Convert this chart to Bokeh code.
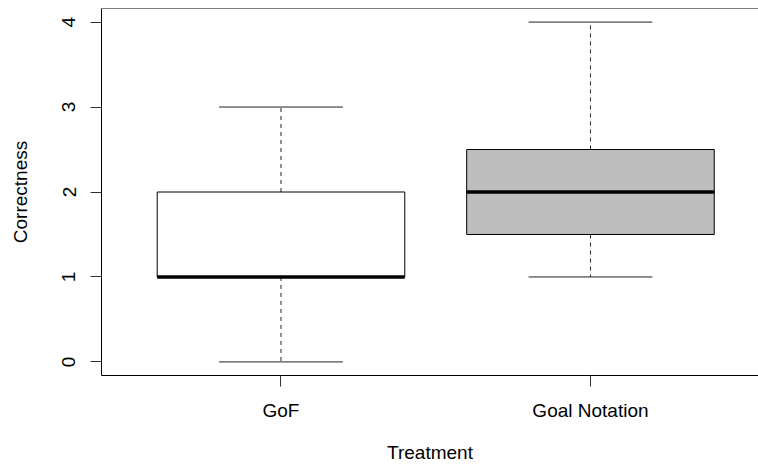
import numpy as np
from bokeh.plotting import figure
from bokeh.models import Range1d, FixedTicker, Span, ColumnDataSource
from bokeh.embed import file_html
from bokeh.resources import INLINE

# ---- data ----
categories = ["GoF", "Goal Notation"]
lower_whisker = [0, 1]
q1 = [1, 1.5]
median = [1, 2]
q3 = [2, 2.5]
upper_whisker = [3, 4]
box_fill = ["#FFFFFF", "#BEBEBE"]
y_ticks = [0, 1, 2, 3, 4]

pos = np.arange(1, len(categories) + 1, dtype=float)
box_w = 0.8
cap_w = 0.4

src = ColumnDataSource(dict(
    x=pos,
    lw=lower_whisker, q1=q1, med=median, q3=q3, uw=upper_whisker,
    fill=box_fill,
    bx0=pos - box_w / 2, bx1=pos + box_w / 2,
    cx0=pos - cap_w / 2, cx1=pos + cap_w / 2,
))

FONT = "Liberation Sans"
FS = "19px"

p = figure(width=758, height=465, output_backend="svg", toolbar_location=None,
           x_range=Range1d(0.42, 2.543), y_range=Range1d(-0.16, 4.16),
           min_border_left=101, min_border_right=0, min_border_top=8, min_border_bottom=90)
p.outline_line_color = None
p.xgrid.visible = False
p.ygrid.visible = False
p.background_fill_color = "white"
p.border_fill_color = "white"

# whiskers (dashed)
p.segment(x0="x", y0="q3", x1="x", y1="uw", source=src, line_color="#222222",
          line_width=1, line_dash="4 4")
p.segment(x0="x", y0="q1", x1="x", y1="lw", source=src, line_color="#222222",
          line_width=1, line_dash="4 4")
# caps
p.segment(x0="cx0", y0="uw", x1="cx1", y1="uw", source=src, line_color="#222222", line_width=1)
p.segment(x0="cx0", y0="lw", x1="cx1", y1="lw", source=src, line_color="#222222", line_width=1)
# boxes
p.quad(left="bx0", right="bx1", bottom="q1", top="q3", source=src,
       fill_color="fill", line_color="black", line_width=1)
# medians
p.segment(x0="bx0", y0="med", x1="bx1", y1="med", source=src, line_color="black", line_width=3.5)

# top border line (right side of the box lies outside the view)
p.add_layout(Span(location=p.y_range.end, dimension="width", line_color="black", line_width=1))

# axes
xa = p.xaxis[0]
xa.ticker = FixedTicker(ticks=list(pos))
xa.major_label_overrides = {float(v): c for v, c in zip(pos, categories)}
xa.major_label_overrides.update({int(v): c for v, c in zip(pos, categories)})
xa.minor_tick_line_color = None
xa.major_tick_out = 11
xa.major_tick_in = 0
xa.major_label_standoff = 13
xa.axis_label = "Treatment"
xa.axis_label_standoff = 18

ya = p.yaxis[0]
ya.ticker = FixedTicker(ticks=y_ticks)
ya.minor_tick_line_color = None
ya.major_tick_out = 11
ya.major_tick_in = 0
ya.major_label_orientation = "vertical"
ya.major_label_standoff = 15
ya.axis_label = "Correctness"
ya.axis_label_standoff = 29

for ax in (xa, ya):
    ax.axis_line_color = "black"
    ax.axis_line_width = 1
    ax.major_tick_line_color = "#333333"
    ax.major_label_text_font = FONT
    ax.major_label_text_font_size = FS
    ax.major_label_text_color = "black"
    ax.axis_label_text_font = FONT
    ax.axis_label_text_font_size = FS
    ax.axis_label_text_font_style = "normal"
    ax.axis_label_text_color = "black"

open("out.html", "w").write(file_html(p, INLINE))
